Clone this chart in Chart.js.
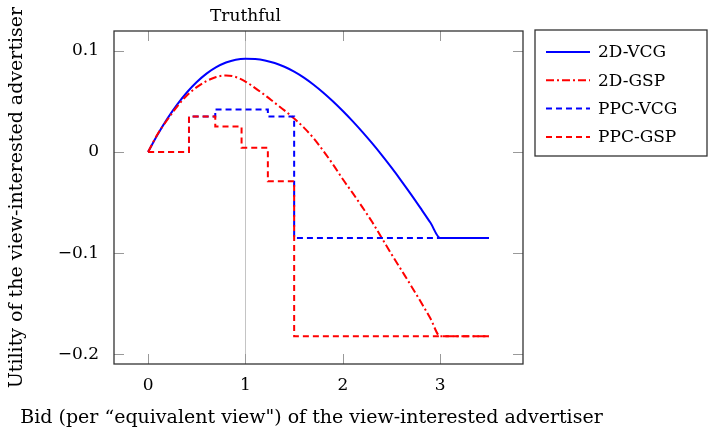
<!DOCTYPE html>
<html>
<head>
<meta charset="utf-8">
<script src="https://cdn.jsdelivr.net/npm/chart.js@4.4.1/dist/chart.umd.min.js"></script>
<style>
  body { margin: 0; background: #fff; }
  #wrap { width: 709px; height: 434px; }
</style>
</head>
<body>
<div id="wrap"><canvas id="graph1" width="709" height="434"></canvas></div>
<script>
// bids where the 2D curves were read
const bids = [0, 0.1, 0.2, 0.3, 0.4, 0.5, 0.6, 0.7, 0.8, 0.9, 1.0, 1.1, 1.2, 1.3, 1.4, 1.5, 1.6, 1.7,
  1.8, 1.9, 2.0, 2.1, 2.2, 2.3, 2.4, 2.5, 2.6, 2.7, 2.8, 2.9, 3.0, 3.5];
const vcg2d = [0, 0.0175, 0.0331, 0.0469, 0.0589, 0.069, 0.0773, 0.0837, 0.0883, 0.0911, 0.092, 0.0917,
  0.0903, 0.0878, 0.0841, 0.0793, 0.0734, 0.0664, 0.0585, 0.0498, 0.0404, 0.0304, 0.0198, 0.0086,
  -0.0032, -0.0156, -0.0285, -0.0419, -0.0558, -0.070, -0.085, -0.085];
const gsp2d = [0, 0.018, 0.032, 0.045, 0.056, 0.064, 0.070, 0.074, 0.0755, 0.074, 0.0695, 0.063, 0.056,
  0.0485, 0.041, 0.033, 0.024, 0.0135, 0.001, -0.0125, -0.027, -0.0405, -0.0545, -0.069, -0.085, -0.101,
  -0.1165, -0.132, -0.148, -0.1645, -0.182, -0.182];

// step functions: value holds from each break onward
const ppcVcgBreaks = [0, 0.42, 0.69, 1.23, 1.5, 3.5];
const ppcVcgLevels = [0, 0.035, 0.042, 0.035, -0.085, -0.085];
const ppcGspBreaks = [0, 0.42, 0.69, 0.96, 1.23, 1.5, 3.5];
const ppcGspLevels = [0, 0.035, 0.025, 0.004, -0.029, -0.182, -0.182];

const xTicks = [0, 1, 2, 3];
const yTicks = [-0.2, -0.1, 0, 0.1];
const truthfulBid = 1;

const serif = "'DejaVu Serif', serif";
Chart.defaults.font.family = serif;
Chart.defaults.color = '#000';

const toPts = (xs, ys) => xs.map((x, i) => ({ x: x, y: ys[i] }));

const series = [
  { label: '2D-VCG', data: toPts(bids, vcg2d), borderColor: '#0000ff', borderDash: [], order: 4 },
  { label: '2D-GSP', data: toPts(bids, gsp2d), borderColor: '#ff0000', borderDash: [8, 3, 2, 3], order: 3 },
  { label: 'PPC-VCG', data: toPts(ppcVcgBreaks, ppcVcgLevels), borderColor: '#0000ff', borderDash: [6, 4], stepped: 'before', order: 2 },
  { label: 'PPC-GSP', data: toPts(ppcGspBreaks, ppcGspLevels), borderColor: '#ff0000', borderDash: [6, 4], stepped: 'before', order: 1 },
];

const datasets = series.map(s => ({
  label: s.label,
  data: s.data,
  borderColor: s.borderColor,
  borderDash: s.borderDash,
  borderWidth: 2,
  pointRadius: 0,
  fill: false,
  stepped: s.stepped || false,
  cubicInterpolationMode: s.stepped ? 'default' : 'monotone',
  order: s.order,
}));

// frame, inward ticks, truthful marker, x title and legend box
const decor = {
  id: 'decor',
  beforeDatasetsDraw(chart) {
    const { ctx, chartArea: a, scales } = chart;
    const xp = scales.x.getPixelForValue(truthfulBid);
    ctx.save();
    ctx.strokeStyle = '#c4c4c4';
    ctx.lineWidth = 1;
    ctx.beginPath();
    ctx.moveTo(Math.round(xp) + 0.5, a.top);
    ctx.lineTo(Math.round(xp) + 0.5, a.bottom);
    ctx.stroke();
    ctx.restore();
  },
  afterDraw(chart) {
    const { ctx, chartArea: a, scales } = chart;
    ctx.save();
    ctx.strokeStyle = '#999';
    ctx.lineWidth = 1;
    const tl = 10;
    ctx.beginPath();
    xTicks.forEach(v => {
      const p = Math.round(scales.x.getPixelForValue(v)) + 0.5;
      ctx.moveTo(p, a.bottom); ctx.lineTo(p, a.bottom - tl);
      ctx.moveTo(p, a.top); ctx.lineTo(p, a.top + tl);
    });
    yTicks.forEach(v => {
      const p = Math.round(scales.y.getPixelForValue(v)) + 0.5;
      ctx.moveTo(a.left, p); ctx.lineTo(a.left + tl, p);
      ctx.moveTo(a.right, p); ctx.lineTo(a.right - tl, p);
    });
    ctx.stroke();

    ctx.strokeStyle = '#333';
    ctx.lineWidth = 1.3;
    ctx.strokeRect(a.left, a.top, a.right - a.left, a.bottom - a.top);

    // title over the truthful bid
    ctx.fillStyle = '#000';
    ctx.font = '17px ' + serif;
    ctx.textAlign = 'center';
    ctx.textBaseline = 'middle';
    ctx.fillText('Truthful', scales.x.getPixelForValue(truthfulBid), 17);

    // x axis title, drawn here so it is not squeezed to the axis width
    ctx.font = '19px ' + serif;
    ctx.fillText('Bid (per \u201cequivalent view") of the view-interested advertiser', (a.left + a.right) / 2 - 7, 418);

    // legend
    const lx = 535, ly = 30, lw = 172, lh = 126;
    ctx.fillStyle = '#fff';
    ctx.fillRect(lx, ly, lw, lh);
    ctx.strokeStyle = '#333';
    ctx.strokeRect(lx, ly, lw, lh);
    ctx.font = '17px ' + serif;
    ctx.textAlign = 'left';
    series.forEach((s, i) => {
      const y = 52 + i * 28.3;
      ctx.strokeStyle = s.borderColor;
      ctx.lineWidth = 2;
      ctx.setLineDash(s.borderDash);
      ctx.beginPath();
      ctx.moveTo(546, y); ctx.lineTo(590, y);
      ctx.stroke();
      ctx.setLineDash([]);
      ctx.fillStyle = '#000';
      ctx.fillText(s.label, 598, y + 1);
    });
    ctx.restore();
  }
};

new Chart(document.getElementById('graph1'), {
  type: 'line',
  data: { datasets: datasets },
  options: {
    responsive: false,
    animation: false,
    events: [],
    layout: { padding: { top: 31, right: 186, left: 0, bottom: 0 } },
    plugins: { legend: { display: false }, tooltip: { enabled: false } },
    scales: {
      x: {
        type: 'linear',
        min: -0.35,
        max: 3.85,
        grid: { display: false },
        border: { display: false },
        afterBuildTicks: s => { s.ticks = xTicks.map(v => ({ value: v })); },
        afterFit: s => { s.height = 70; },
        ticks: { padding: 3, font: { size: 17 }, maxRotation: 0 },
      },
      y: {
        type: 'linear',
        min: -0.2094,
        max: 0.1194,
        grid: { display: false },
        border: { display: false },
        afterBuildTicks: s => { s.ticks = yTicks.map(v => ({ value: v })); },
        afterFit: s => { s.width = 114; },
        ticks: {
          padding: 7,
          font: { size: 17 },
          callback: v => (v < 0 ? '\u2212' + Math.abs(v) : String(v)),
        },
        title: { display: true, text: 'Utility of the view-interested advertiser',
          font: { size: 19 }, padding: { top: 6, bottom: 0 } },
      },
    },
  },
  plugins: [decor],
});
</script>
</body>
</html>
